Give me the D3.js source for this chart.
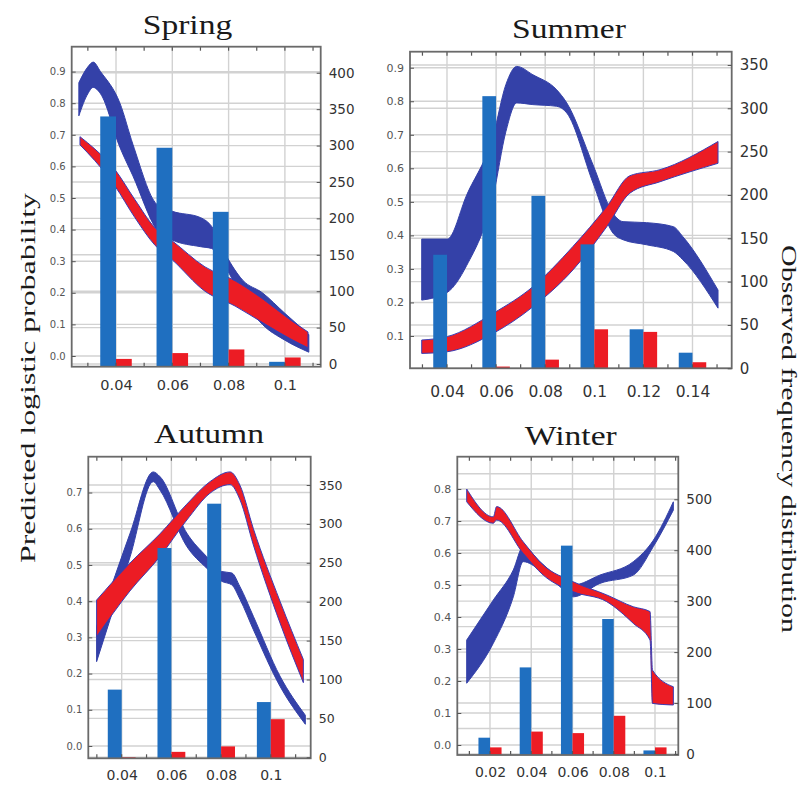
<!DOCTYPE html>
<html>
<head>
<meta charset="utf-8">
<script src="https://cdn.jsdelivr.net/npm/d3@7"></script>
<style>
  body { margin: 0; background: #fff; }
  svg { display: block; }
  .serif { font-family: "Liberation Serif", "Times New Roman", Times, serif; }
  .sans { font-family: "DejaVu Sans", Verdana, sans-serif; }
</style>
</head>
<body>
<svg id="chart" width="803" height="785"></svg>
<script>
// ---------------- data ----------------
const seasons = ["Spring", "Summer", "Autumn", "Winter"];

// Spring
const springTicks = [0.04, 0.06, 0.08, 0.1];
const springTickLabels = ["0.04", "0.06", "0.08", "0.1"];
const springBlueBars = [340, 297, 209, 3];
const springRedBars = [7, 15, 20, 9];
const springBlueX  = [0.0268, 0.0300, 0.0319, 0.0345, 0.0414, 0.0460, 0.0545, 0.0600, 0.0700, 0.0740, 0.0790, 0.0850, 0.0920, 0.1000, 0.1085];
const springBlueHi = [0.865, 0.915, 0.930, 0.900, 0.800, 0.670, 0.480, 0.458, 0.438, 0.410, 0.320, 0.240, 0.200, 0.135, 0.068];
const springBlueLo = [0.760, 0.830, 0.850, 0.830, 0.660, 0.570, 0.400, 0.367, 0.346, 0.340, 0.280, 0.180, 0.100, 0.050, 0.012];
const springRedX  = [0.0272, 0.0325, 0.0396, 0.0467, 0.0539, 0.0599, 0.0716, 0.0823, 0.0922, 0.1018, 0.1082];
const springRedHi = [0.694, 0.655, 0.590, 0.495, 0.405, 0.365, 0.282, 0.238, 0.180, 0.115, 0.076];
const springRedLo = [0.668, 0.618, 0.538, 0.438, 0.350, 0.305, 0.205, 0.158, 0.105, 0.055, 0.026];

// Summer
const summerTicks = [0.04, 0.06, 0.08, 0.1, 0.12, 0.14];
const summerTickLabels = ["0.04", "0.06", "0.08", "0.1", "0.12", "0.14"];
const summerBlueBars = [131, 314, 199, 143, 45, 18];
const summerRedBars = [0, 2, 10, 45, 42, 7];
const summerBlueX  = [0.0297, 0.0401, 0.0480, 0.0589, 0.0640, 0.0684, 0.0750, 0.0847, 0.0888, 0.0995, 0.1076, 0.1117, 0.1213, 0.1322, 0.1361, 0.1504];
const summerBlueHi = [0.389, 0.389, 0.520, 0.700, 0.850, 0.904, 0.879, 0.834, 0.795, 0.610, 0.466, 0.441, 0.438, 0.426, 0.396, 0.237];
const summerBlueLo = [0.207, 0.230, 0.310, 0.520, 0.710, 0.795, 0.790, 0.785, 0.765, 0.556, 0.407, 0.387, 0.372, 0.352, 0.327, 0.183];
const summerRedX  = [0.0297, 0.0401, 0.0589, 0.0750, 0.0913, 0.1051, 0.1145, 0.1268, 0.1504];
const summerRedHi = [0.088, 0.098, 0.168, 0.247, 0.367, 0.486, 0.578, 0.596, 0.680];
const summerRedLo = [0.048, 0.053, 0.108, 0.187, 0.297, 0.426, 0.526, 0.560, 0.615];

// Autumn
const autumnTicks = [0.04, 0.06, 0.08, 0.1];
const autumnTickLabels = ["0.04", "0.06", "0.08", "0.1"];
const autumnBlueBars = [87, 269, 326, 71];
const autumnRedBars = [0, 7, 14, 49];
const autumnBlueX  = [0.0299, 0.0353, 0.0434, 0.0527, 0.0554, 0.0662, 0.0742, 0.0802, 0.0843, 0.0876, 0.0930, 0.1037, 0.1139];
const autumnBlueHi = [0.330, 0.431, 0.588, 0.757, 0.744, 0.588, 0.523, 0.482, 0.478, 0.440, 0.358, 0.193, 0.085];
const autumnBlueLo = [0.233, 0.349, 0.523, 0.730, 0.707, 0.551, 0.491, 0.455, 0.445, 0.405, 0.321, 0.165, 0.060];
const autumnRedX  = [0.0299, 0.0433, 0.0554, 0.0662, 0.0755, 0.0836, 0.0876, 0.0930, 0.1037, 0.1131];
const autumnRedHi = [0.403, 0.505, 0.586, 0.668, 0.730, 0.757, 0.720, 0.600, 0.400, 0.239];
const autumnRedLo = [0.302, 0.428, 0.523, 0.624, 0.698, 0.722, 0.680, 0.555, 0.340, 0.175];

// Winter
const winterTicks = [0.02, 0.04, 0.06, 0.08, 0.1];
const winterTickLabels = ["0.02", "0.04", "0.06", "0.08", "0.1"];
const winterBlueBars = [32, 170, 409, 265, 7];
const winterRedBars = [13, 44, 41, 75, 13];
const winterBlueX  = [0.0087, 0.0216, 0.0313, 0.0361, 0.0442, 0.0539, 0.0604, 0.0733, 0.0895, 0.0992, 0.1089];
const winterBlueHi = [0.328, 0.453, 0.547, 0.620, 0.573, 0.521, 0.500, 0.531, 0.573, 0.640, 0.760];
const winterBlueLo = [0.193, 0.318, 0.463, 0.573, 0.547, 0.495, 0.463, 0.505, 0.531, 0.620, 0.734];
const winterRedX  = [0.0087, 0.0216, 0.0232, 0.0361, 0.0458, 0.0604, 0.0766, 0.0895, 0.0976, 0.0988, 0.1089];
const winterRedHi = [0.800, 0.713, 0.745, 0.635, 0.5625, 0.510, 0.469, 0.432, 0.417, 0.234, 0.182];
const winterRedLo = [0.760, 0.693, 0.703, 0.599, 0.531, 0.479, 0.448, 0.380, 0.328, 0.130, 0.125];

// axis tick sets
const springLeftTicks = d3.range(0, 10).map(i => i / 10);
const springRightTicks = d3.range(0, 450, 50);
const summerLeftTicks = d3.range(1, 10).map(i => i / 10);
const summerRightTicks = d3.range(0, 400, 50);
const autumnLeftTicks = d3.range(0, 8).map(i => i / 10);
const autumnRightTicks = d3.range(0, 400, 50);
const winterLeftTicks = d3.range(0, 9).map(i => i / 10);
const winterRightTicks = d3.range(0, 600, 100);

// ---------------- styling ----------------
const BAND_BLUE = "#3441a8";
const BAR_BLUE = "#1f6fc0";
const RED = "#ec1c24";
const GRID = "#d2d2d2";
const FRAME = "#6a6a6a";

const zip = (xs, hi, lo) => xs.map((x, i) => ({ x, hi: hi[i], lo: lo[i] }));

const panels = [
  {
    title: seasons[0], titleX: 187.5, titleY: 33.5,
    box: [71.7, 46.7, 320.7, 366.7],
    xDom: [0.02426, 0.11272], yDom: [-0.0339, 0.9788], rDom: [-3.7, 435.8],
    xTicks: springTicks, xLabels: springTickLabels,
    leftTicks: springLeftTicks, rightTicks: springRightTicks, rightGrid: springRightTicks,
    blueBars: springBlueBars, redBars: springRedBars,
    blueBand: zip(springBlueX, springBlueHi, springBlueLo),
    redBand: zip(springRedX, springRedHi, springRedLo),
    fsL: 10, fsR: 13.5, fsX: 14.5, xPad: 13.5
  },
  {
    title: seasons[1], titleX: 569, titleY: 38.3,
    box: [410, 51.7, 731.7, 368.3],
    xDom: [0.02493, 0.15597], yDom: [0.0036, 0.9478], rDom: [0, 365.3],
    xTicks: summerTicks, xLabels: summerTickLabels,
    leftTicks: summerLeftTicks, rightTicks: summerRightTicks, rightGrid: summerRightTicks,
    blueBars: summerBlueBars, redBars: summerRedBars,
    blueBand: zip(summerBlueX, summerBlueHi, summerBlueLo),
    redBand: zip(summerRedX, summerRedHi, summerRedLo),
    fsL: 11, fsR: 15, fsX: 15.5, xPad: 18
  },
  {
    title: seasons[2], titleX: 209, titleY: 443.3,
    box: [88.3, 456.7, 310.7, 758.3],
    xDom: [0.02656, 0.11606], yDom: [-0.034, 0.799], rDom: [-1.29, 386.4],
    xTicks: autumnTicks, xLabels: autumnTickLabels,
    leftTicks: autumnLeftTicks, rightTicks: autumnRightTicks, rightGrid: autumnRightTicks,
    blueBars: autumnBlueBars, redBars: autumnRedBars,
    blueBand: zip(autumnBlueX, autumnBlueHi, autumnBlueLo),
    redBand: zip(autumnRedX, autumnRedHi, autumnRedLo),
    fsL: 10, fsR: 12.5, fsX: 14, xPad: 11.8
  },
  {
    title: seasons[3], titleX: 570.8, titleY: 445,
    box: [457.3, 456.7, 678.3, 755],
    xDom: [0.004146, 0.1113], yDom: [-0.03125, 0.901], rDom: [-1.96, 583.6],
    xTicks: winterTicks, xLabels: winterTickLabels,
    leftTicks: winterLeftTicks, rightTicks: winterRightTicks, rightGrid: d3.range(0, 600, 50),
    blueBars: winterBlueBars, redBars: winterRedBars,
    blueBand: zip(winterBlueX, winterBlueHi, winterBlueLo),
    redBand: zip(winterRedX, winterRedHi, winterRedLo),
    fsL: 11, fsR: 13.5, fsX: 14, xPad: 11.6
  }
];

const svg = d3.select("#chart");

function drawPanel(p, idx) {
  const [x0, y0, x1, y1] = p.box;
  const x = d3.scaleLinear().domain(p.xDom).range([x0, x1]);
  const yL = d3.scaleLinear().domain(p.yDom).range([y1, y0]);
  const yR = d3.scaleLinear().domain(p.rDom).range([y1, y0]);
  const g = svg.append("g").attr("class", "panel");

  const clipId = "clip" + idx;
  svg.append("clipPath").attr("id", clipId)
    .append("rect").attr("x", x0).attr("y", y0).attr("width", x1 - x0).attr("height", y1 - y0);

  // grid lines
  const grid = g.append("g").attr("clip-path", `url(#${clipId})`)
    .attr("stroke", GRID).attr("stroke-width", 1.4);
  grid.selectAll("line.gl").data(p.leftTicks).join("line").attr("class", "gl")
    .attr("x1", x0).attr("x2", x1).attr("y1", d => yL(d)).attr("y2", d => yL(d));
  grid.selectAll("line.gr").data(p.rightGrid).join("line").attr("class", "gr")
    .attr("x1", x0).attr("x2", x1).attr("y1", d => yR(d)).attr("y2", d => yR(d));
  grid.selectAll("line.gv").data(p.xTicks).join("line").attr("class", "gv")
    .attr("x1", d => x(d)).attr("x2", d => x(d)).attr("y1", y0).attr("y2", y1);

  // confidence bands
  const area = d3.area()
    .x(d => x(d.x)).y0(d => yL(d.lo)).y1(d => yL(d.hi))
    .curve(d3.curveMonotoneX);
  const bands = g.append("g").attr("clip-path", `url(#${clipId})`);
  bands.append("path").datum(p.blueBand).attr("d", area)
    .attr("fill", BAND_BLUE).attr("stroke", BAND_BLUE).attr("stroke-width", 1);
  bands.append("path").datum(p.redBand).attr("d", area)
    .attr("fill", RED).attr("stroke", "#3a3cb4").attr("stroke-width", 1);

  // frequency bars (blue left of tick, red right of tick)
  const step = x(p.xTicks[1]) - x(p.xTicks[0]);
  const w = step * 0.28;
  const bars = g.append("g");
  bars.selectAll("rect.b").data(p.blueBars).join("rect").attr("class", "b")
    .attr("x", (d, i) => x(p.xTicks[i]) - w).attr("width", w)
    .attr("y", d => yR(d)).attr("height", d => Math.max(0, y1 - yR(d)))
    .attr("fill", BAR_BLUE);
  bars.selectAll("rect.r").data(p.redBars).join("rect").attr("class", "r")
    .attr("x", (d, i) => x(p.xTicks[i])).attr("width", w)
    .attr("y", d => yR(d)).attr("height", d => Math.max(0, y1 - yR(d)))
    .attr("fill", RED);

  // minor tick marks along top and bottom edges
  const minor = d3.range(Math.ceil(p.xDom[0] * 100), Math.floor(p.xDom[1] * 100) + 1).map(k => k / 100);
  const mt = g.append("g").attr("stroke", "#555").attr("stroke-width", 1.2);
  mt.selectAll("line.t").data(minor).join("line").attr("class", "t")
    .attr("x1", d => x(d)).attr("x2", d => x(d)).attr("y1", y0).attr("y2", y0 + 4);
  mt.selectAll("line.bm").data(minor).join("line").attr("class", "bm")
    .attr("x1", d => x(d)).attr("x2", d => x(d)).attr("y1", y1).attr("y2", y1 - 4);

  // frame
  g.append("rect").attr("x", x0).attr("y", y0).attr("width", x1 - x0).attr("height", y1 - y0)
    .attr("fill", "none").attr("stroke", FRAME).attr("stroke-width", 1.8);

  // left axis (probability)
  const aL = g.append("g").attr("transform", `translate(${x0},0)`)
    .call(d3.axisLeft(yL).tickValues(p.leftTicks).tickFormat(d3.format(".1f"))
      .tickSize(-4).tickPadding(6));
  aL.attr("font-family", null);
  aL.select(".domain").remove();
  aL.selectAll("line").attr("stroke", "#555");
  aL.selectAll("text").attr("class", "sans")
    .attr("font-size", p.fsL).attr("fill", "#555");

  // right axis (frequency)
  const aR = g.append("g").attr("transform", `translate(${x1},0)`)
    .call(d3.axisRight(yR).tickValues(p.rightTicks).tickFormat(d3.format("d"))
      .tickSize(-4).tickPadding(8));
  aR.attr("font-family", null);
  aR.select(".domain").remove();
  aR.selectAll("line").attr("stroke", "#555");
  aR.selectAll("text").attr("class", "sans")
    .attr("font-size", p.fsR).attr("fill", "#333");

  // bottom axis
  const aB = g.append("g").attr("transform", `translate(0,${y1})`)
    .call(d3.axisBottom(x).tickValues(p.xTicks).tickFormat((d, i) => p.xLabels[i])
      .tickSize(0).tickPadding(p.xPad));
  aB.attr("font-family", null);
  aB.select(".domain").remove();
  aB.selectAll("text").attr("class", "sans")
    .attr("font-size", p.fsX).attr("fill", "#333");

  // season title
  svg.append("text").attr("class", "serif")
    .attr("transform", `translate(${p.titleX},${p.titleY}) scale(1.2,1)`)
    .attr("text-anchor", "middle")
    .attr("font-size", 28).attr("fill", "#1a1a1a")
    .text(p.title);
}

panels.forEach(drawPanel);

// shared axis titles
svg.append("text").attr("class", "serif")
  .attr("transform", "translate(34.5,378) rotate(-90)")
  .attr("text-anchor", "middle")
  .attr("font-size", 21).attr("fill", "#1a1a1a")
  .attr("textLength", 370).attr("lengthAdjust", "spacingAndGlyphs")
  .text("Predicted logistic probability");

svg.append("text").attr("class", "serif")
  .attr("transform", "translate(782,439) rotate(90)")
  .attr("text-anchor", "middle")
  .attr("font-size", 21).attr("fill", "#1a1a1a")
  .attr("textLength", 388).attr("lengthAdjust", "spacingAndGlyphs")
  .text("Observed frequency distribution");
</script>
</body>
</html>
